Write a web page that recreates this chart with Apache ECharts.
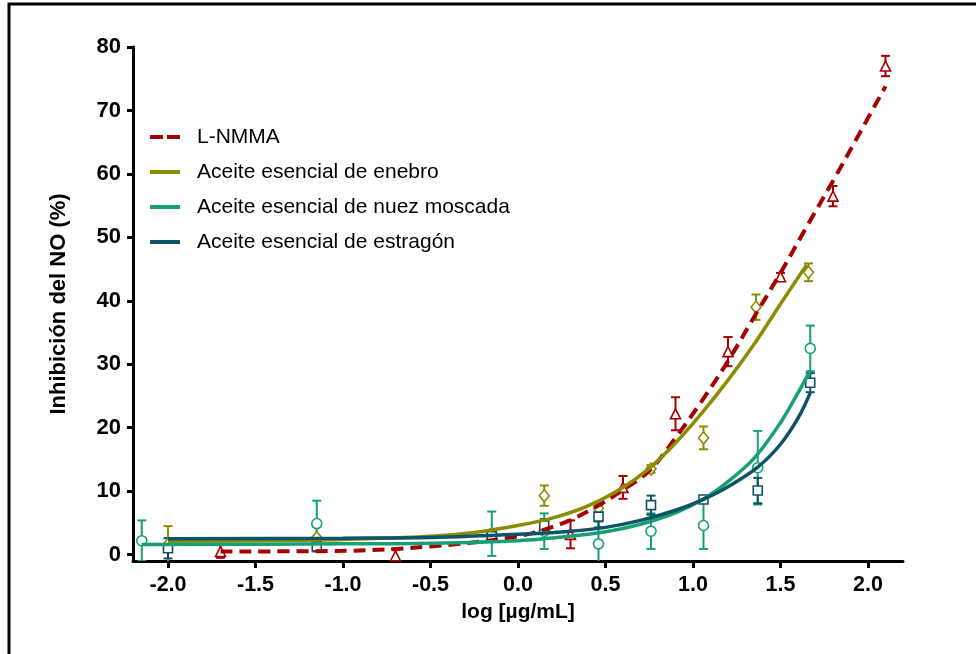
<!DOCTYPE html>
<html>
<head>
<meta charset="utf-8">
<script src="https://cdn.jsdelivr.net/npm/echarts@6/dist/echarts.min.js"></script>
<style>
  html, body { margin: 0; padding: 0; background: #ffffff; }
  #chart { width: 976px; height: 654px; }
</style>
</head>
<body>
<div id="chart"></div>
<script>
// Axis ticks
const xTicks = [-2.0, -1.5, -1.0, -0.5, 0.0, 0.5, 1.0, 1.5, 2.0];
const yTicks = [0, 10, 20, 30, 40, 50, 60, 70, 80];

// Series names
const seriesNames = [
  'L-NMMA',
  'Aceite esencial de enebro',
  'Aceite esencial de nuez moscada',
  'Aceite esencial de estragón'
];

// L-NMMA: measured means and errors
const nmmaX    = [-1.7, -0.7, 0.3, 0.6, 0.9, 1.2, 1.5, 1.8, 2.1];
const nmmaMean = [0.5, -0.2, 3.2, 10.6, 22.2, 32.0, 43.8, 56.5, 77.0];
const nmmaErr  = [1.0, 1.1, 2.2, 1.8, 2.6, 2.3, 0.6, 1.6, 1.6];
// L-NMMA: fitted curve
const nmmaCurveX = [-1.7, -1.0, -0.5, 0.0, 0.26, 0.45, 0.6, 0.75, 0.9, 1.05, 1.2, 1.35, 1.5, 1.65, 1.8, 1.95, 2.1];
const nmmaCurveY = [0.5, 0.6, 1.3, 2.9, 5.0, 7.6, 10.2, 13.2, 18.4, 24.2, 30.5, 37.5, 44.4, 51.7, 58.9, 66.3, 73.8];

// Enebro: measured means and errors
const enebroX    = [-2.0, -1.15, 0.15, 0.46, 0.76, 1.06, 1.36, 1.66];
const enebroMean = [1.6, 2.7, 9.3, 7.3, 13.5, 18.4, 39.0, 44.5];
const enebroErr  = [2.9, 1.7, 1.6, 0.6, 0.6, 1.8, 2.0, 1.4];
// Enebro: fitted curve
const enebroCurveX = [-2.0, -1.5, -1.0, -0.5, -0.25, 0.0, 0.2, 0.4, 0.6, 0.75, 0.9, 1.05, 1.2, 1.35, 1.5, 1.65];
const enebroCurveY = [2.1, 2.2, 2.4, 2.9, 3.5, 4.6, 5.8, 7.7, 10.6, 13.6, 17.6, 22.3, 27.5, 33.2, 39.5, 45.7];

// Nuez moscada: measured means and errors
const nuezX    = [-2.15, -1.15, -0.15, 0.15, 0.46, 0.76, 1.06, 1.37, 1.67];
const nuezMean = [2.2, 4.9, 3.3, 3.7, 1.7, 3.7, 4.6, 13.7, 32.5];
const nuezErr  = [3.2, 3.6, 3.5, 2.8, 3.5, 2.8, 3.7, 5.8, 3.6];
// Nuez moscada: fitted curve
const nuezCurveX = [-2.15, -1.0, -0.5, 0.0, 0.3, 0.5, 0.7, 0.9, 1.05, 1.2, 1.35, 1.5, 1.6, 1.67];
const nuezCurveY = [1.6, 1.7, 1.8, 2.2, 2.9, 3.6, 4.8, 6.6, 8.6, 11.5, 15.2, 20.8, 25.5, 29.0];

// Estragón: measured means and errors
const estragonX    = [-2.0, -1.15, -0.15, 0.15, 0.46, 0.76, 1.06, 1.37, 1.67];
const estragonMean = [1.0, 1.3, 2.9, 4.6, 6.0, 7.8, 8.7, 10.1, 27.1];
const estragonErr  = [1.6, 0.8, 0.8, 1.0, 1.7, 1.5, 0.5, 2.0, 1.5];
// Estragón: fitted curve
const estragonCurveX = [-2.0, -1.0, -0.5, 0.0, 0.3, 0.5, 0.7, 0.9, 1.05, 1.2, 1.37, 1.5, 1.6, 1.67];
const estragonCurveY = [2.5, 2.6, 2.7, 3.2, 3.7, 4.3, 5.4, 7.0, 8.6, 10.7, 13.8, 17.4, 21.5, 25.5];

const colors = ['#a60000', '#8c8c00', '#17a075', '#0f5368'];
const symbols = ['triangle', 'diamond', 'circle', 'rect'];
const symbolSizes = [[10, 10], [10, 12], 10, 9];
const legendIcons = ['path://M0,0H13V4H0Z M17,0H30V4H17Z', 'rect', 'rect', 'rect'];
const FONT = '"Liberation Sans", Arial, Helvetica, sans-serif';

const groups = [
  { x: nmmaX, m: nmmaMean, e: nmmaErr, cx: nmmaCurveX, cy: nmmaCurveY, dashed: true },
  { x: enebroX, m: enebroMean, e: enebroErr, cx: enebroCurveX, cy: enebroCurveY },
  { x: nuezX, m: nuezMean, e: nuezErr, cx: nuezCurveX, cy: nuezCurveY },
  { x: estragonX, m: estragonMean, e: estragonErr, cx: estragonCurveX, cy: estragonCurveY }
];

function errorBarRender(color) {
  return function (params, api) {
    const x = api.value(0);
    const top = api.coord([x, api.value(2)]);
    const bot = api.coord([x, api.value(1)]);
    const half = 4.5;
    const style = { stroke: color, lineWidth: 2 };
    return {
      type: 'group',
      children: [
        { type: 'line', shape: { x1: top[0], y1: top[1], x2: bot[0], y2: bot[1] }, style },
        { type: 'line', shape: { x1: top[0] - half, y1: top[1], x2: top[0] + half, y2: top[1] }, style },
        { type: 'line', shape: { x1: bot[0] - half, y1: bot[1], x2: bot[0] + half, y2: bot[1] }, style }
      ]
    };
  };
}

const series = [];
groups.forEach((g, i) => {
  // fitted curve
  series.push({
    name: seriesNames[i],
    type: 'line',
    smooth: 0.35,
    showSymbol: false,
    symbol: 'none',
    z: 4,
    silent: true,
    data: g.cx.map((v, k) => [v, g.cy[k]]),
    lineStyle: g.dashed
      ? { color: colors[i], width: 4, type: [12, 7] }
      : { color: colors[i], width: 3.5 },
    itemStyle: { color: colors[i] }
  });
});
groups.forEach((g, i) => {
  // error bars
  series.push({
    name: seriesNames[i],
    type: 'custom',
    z: 2,
    clip: true,
    silent: true,
    renderItem: errorBarRender(colors[i]),
    data: g.x.map((v, k) => [v, g.m[k] - g.e[k], g.m[k] + g.e[k]])
  });
  // hollow markers
  series.push({
    name: seriesNames[i],
    type: 'scatter',
    z: 3,
    silent: true,
    symbol: symbols[i],
    symbolSize: symbolSizes[i],
    itemStyle: { color: '#ffffff', borderColor: colors[i], borderWidth: 1.6, opacity: 1 },
    data: g.x.map((v, k) => [v, g.m[k]])
  });
});

const chart = echarts.init(document.getElementById('chart'), null, { renderer: 'canvas' });
chart.setOption({
  animation: false,
  backgroundColor: '#ffffff',
  textStyle: { fontFamily: FONT },
  grid: { left: 133, right: 73, top: 47, bottom: 93, containLabel: false },
  legend: {
    data: seriesNames.map((n, i) => ({ name: n, icon: legendIcons[i], itemStyle: { color: colors[i] } })),
    orient: 'vertical',
    left: 150,
    top: 125,
    padding: 0,
    itemWidth: 30,
    itemHeight: 4,
    itemGap: 11,
    selectedMode: false,
    textStyle: {
      fontFamily: FONT, fontSize: 21, color: '#000000',
      lineHeight: 24, padding: [0, 0, 0, 12]
    }
  },
  xAxis: {
    type: 'value',
    min: -2.2,
    max: 2.2,
    name: 'log [\u00b5g/mL]',
    nameLocation: 'middle',
    nameGap: 41,
    nameTextStyle: { fontFamily: FONT, fontSize: 21, fontWeight: 'bold', color: '#000000' },
    axisLine: { show: true, onZero: false, lineStyle: { color: '#000000', width: 3 } },
    axisTick: { show: true, customValues: xTicks, length: 7, lineStyle: { color: '#000000', width: 3 } },
    axisLabel: {
      customValues: xTicks,
      formatter: v => Number(v).toFixed(1),
      fontFamily: FONT, fontSize: 21.5, fontWeight: 'bold', color: '#000000', margin: 13
    },
    splitLine: { show: false }
  },
  yAxis: {
    type: 'value',
    min: -1,
    max: 80,
    name: 'Inhibición del NO (%)',
    nameLocation: 'middle',
    nameGap: 63,
    nameTextStyle: { fontFamily: FONT, fontSize: 22, fontWeight: 'bold', color: '#000000' },
    axisLine: { show: true, onZero: false, lineStyle: { color: '#000000', width: 3 } },
    axisTick: { show: true, customValues: yTicks, length: 6, lineStyle: { color: '#000000', width: 3 } },
    axisLabel: {
      customValues: yTicks,
      fontFamily: FONT, fontSize: 22, fontWeight: 'bold', color: '#000000', margin: 12
    },
    splitLine: { show: false }
  },
  graphic: [{
    type: 'polyline',
    silent: true,
    shape: { points: [[9, 654], [9, 4], [976, 4]] },
    style: { stroke: '#000000', lineWidth: 3, fill: null }
  }],
  series
});
</script>
</body>
</html>
